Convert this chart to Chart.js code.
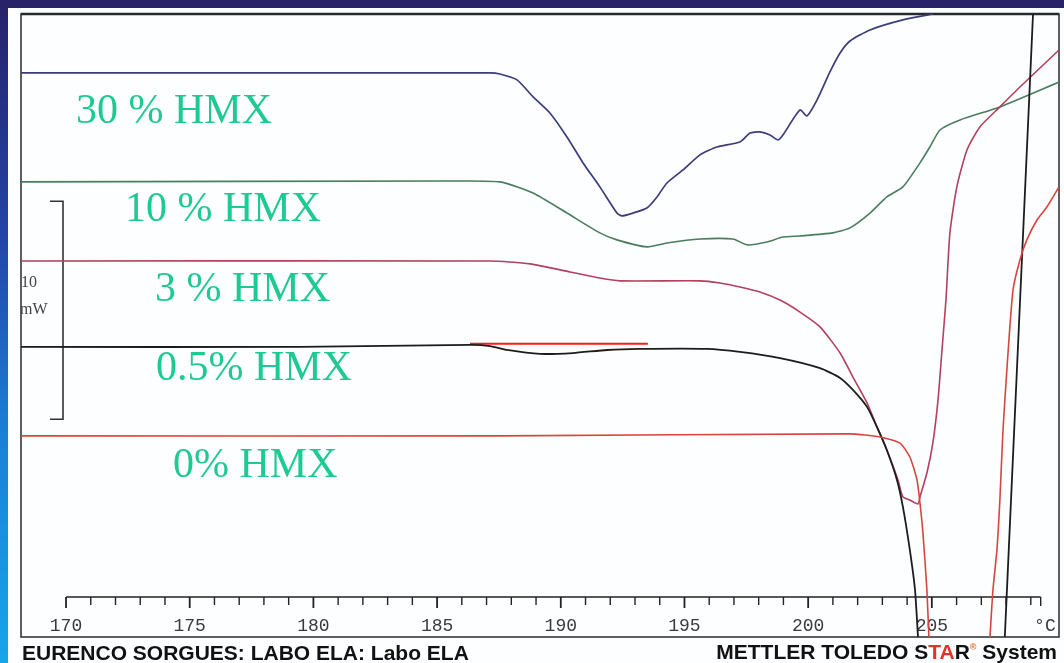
<!DOCTYPE html>
<html><head><meta charset="utf-8">
<script src="https://cdn.jsdelivr.net/npm/chart.js@4"></script>
<style>
html,body{margin:0;padding:0;width:1064px;height:663px;overflow:hidden;}
body{background:linear-gradient(to bottom,#272268 0%,#2343a6 35%,#1b7fd6 65%,#17a5ea 100%);}
#wrap{position:relative;width:1064px;height:663px;}
#paper{position:absolute;left:8px;top:8px;width:1056px;height:655px;background:#fdfeff;}
canvas{position:absolute;left:0;top:0;}
.lbl{position:absolute;font-family:"Liberation Serif","Times New Roman",serif;font-size:42px;line-height:42px;color:#1fc992;white-space:nowrap;}
.foot{position:absolute;font-family:"Liberation Sans",Arial,sans-serif;font-weight:bold;font-size:21px;line-height:21px;color:#111;white-space:nowrap;}
.unit{position:absolute;font-family:"Liberation Serif",serif;font-size:16px;line-height:16px;color:#444;}
.red{color:#e0352b;}
.reg{font-size:9px;line-height:0;position:relative;top:-9px;color:#e07030;}
</style>
</head><body>
<div id="wrap">
<div id="paper"></div>
<canvas id="c" width="1064" height="663"></canvas>
<div class="lbl" style="left:76px;top:88px">30 % HMX</div>
<div class="lbl" style="left:125px;top:186px">10 % HMX</div>
<div class="lbl" style="left:155px;top:266px">3 % HMX</div>
<div class="lbl" style="left:156px;top:345px">0.5% HMX</div>
<div class="lbl" style="left:173px;top:442px">0% HMX</div>
<div class="unit" style="left:21px;top:274px">10</div>
<div class="unit" style="left:20px;top:301px">mW</div>
<div class="foot" style="left:22px;top:642px">EURENCO SORGUES: LABO ELA: Labo ELA</div>
<div class="foot" style="right:7px;top:641px">METTLER TOLEDO S<span class="red">TA</span>R<span class="reg">®</span> System</div>
</div>
<script>
// Temperatures (°C) and heat flow (mW, offset curves)
const t30 = [168.18,187.14,187.54,188.23,188.88,189.56,190.25,190.90,191.58,192.27,192.47,192.92,193.48,193.89,194.29,194.94,195.63,196.31,197.24,197.65,198.05,198.46,198.78,198.98,199.67,199.95,200.36,200.88,201.29,201.69,202.50,203.83,205.04];
const y30 = [24.04,24.04,23.99,23.72,22.94,22.20,21.10,19.91,18.81,17.61,17.48,17.61,17.84,18.35,18.99,19.59,20.28,20.64,20.87,21.28,21.33,21.19,20.96,21.19,22.34,22.06,22.80,24.08,24.95,25.50,26.01,26.47,26.74];

const t10 = [168.18,185.52,187.54,188.88,190.25,191.58,192.27,193.48,194.29,195.63,196.96,197.53,198.33,198.98,199.67,201.00,201.69,202.50,203.18,203.83,204.52,204.92,205.33,206.14,207.75,210.14];
const y10 = [19.04,19.08,19.04,18.53,17.61,16.70,16.38,16.06,16.24,16.42,16.42,16.15,16.28,16.51,16.56,16.70,16.93,17.61,18.35,18.81,19.91,20.64,21.42,21.88,22.48,23.62];

const t3 = [168.18,187.14,188.76,190.37,191.58,192.39,195.63,196.43,197.24,198.05,198.86,199.67,200.48,201.29,201.81,202.38,202.78,203.18,203.63,203.83,204.11,204.44,204.52,204.80,205.04,205.25,205.41,205.57,205.73,206.01,206.42,206.94,207.75,208.56,210.14];
const y3 = [15.41,15.41,15.28,14.91,14.63,14.50,14.50,14.40,14.22,13.99,13.62,13.07,12.39,11.19,10.09,8.90,7.80,6.74,5.37,4.59,4.45,4.27,4.59,5.69,7.06,9.04,11.33,13.62,16.70,18.81,20.50,21.56,22.48,23.39,25.09];

const t05 = [168.18,179.46,186.33,187.14,187.83,189.16,190.49,191.87,193.20,195.91,197.24,198.86,200.48,201.29,201.81,202.38,202.78,203.18,203.59,203.83,204.11,204.32,204.44,205.5,207.95,209.09];
const y05 = [11.47,11.47,11.56,11.51,11.33,11.15,11.19,11.33,11.38,11.38,11.24,10.96,10.50,10.05,9.50,8.72,7.80,6.74,5.37,4.13,2.16,0.32,-1.83,null,-1.83,26.74];

const t0 = [168.18,187.54,201.69,202.90,203.71,204.11,204.40,204.52,204.64,204.80,204.88,206.0,207.35,207.47,207.63,207.75,207.87,208.04,208.28,208.56,208.84,209.25,209.65,210.14];
const y0 = [7.39,7.39,7.48,7.34,7.06,6.42,5.37,4.31,2.94,0.32,-1.83,null,-1.83,0.32,2.16,4.45,7.52,10.55,14.08,15.46,16.38,17.29,17.89,18.81];

const markT = [186.33,193.52];
const markY = [11.61,11.61];

const tickLabelValues = [170,175,180,185,190,195,200,205,209.57];
const tickLabels = ['170','175','180','185','190','195','200','205','°C'];
const minorTicks = [170,171,172,173,174,175,176,177,178,179,180,181,182,183,184,185,186,187,188,189,190,191,192,193,194,195,196,197,198,199,200,201,202,203,204,205,206,207,208,209];
const scaleBar = [8.15,18.15]; // 10 mW

const pts = (t,y)=>t.map((v,i)=>({x:v,y:y[i]}));

function ds(t,y,color,w){
  return {data:pts(t,y),borderColor:color,borderWidth:w||1.6,pointRadius:0,tension:0.2,spanGaps:false,
          clip:{left:0,top:2,right:0,bottom:40}};
}

const framePlugin = {
  id:'frame',
  beforeDatasetsDraw(chart){
    const c = chart.ctx, a = chart.chartArea, xs = chart.scales.x, ys = chart.scales.y;
    c.save();
    c.strokeStyle = '#2a2a2a';
    c.lineWidth = 1.5;
    c.strokeRect(a.left, a.top, a.right - a.left, 637 - a.top);
    c.lineWidth = 2.5;
    c.beginPath(); c.moveTo(a.left, a.top); c.lineTo(a.right, a.top); c.stroke();
    c.lineWidth = 1.6;
    c.strokeStyle = '#222';
    const x0 = xs.getPixelForValue(170), x1 = xs.getPixelForValue(209.4);
    c.beginPath(); c.moveTo(x0, a.bottom); c.lineTo(x1, a.bottom); c.stroke();
    minorTicks.forEach(v=>{
      const px = xs.getPixelForValue(v);
      const len = (v % 5 === 0) ? 11 : 8;
      c.lineWidth = (v % 5 === 0) ? 1.8 : 1.4;
      c.beginPath(); c.moveTo(px, a.bottom); c.lineTo(px, a.bottom + len); c.stroke();
    });
    c.beginPath(); c.moveTo(x1, a.bottom); c.lineTo(x1, a.bottom + 9); c.stroke();
    const yt = ys.getPixelForValue(scaleBar[1]), yb = ys.getPixelForValue(scaleBar[0]);
    c.lineWidth = 1.6;
    c.strokeStyle = '#333';
    c.beginPath();
    c.moveTo(50, yt); c.lineTo(63, yt); c.lineTo(63, yb); c.lineTo(50, yb);
    c.stroke();
    c.restore();
  }
};

new Chart(document.getElementById('c'), {
  type:'line',
  data:{datasets:[
    ds(t0,y0,'#d8453f',1.6),
    ds(t05,y05,'#1c1c1c',1.8),
    ds(t3,y3,'#b3405c',1.6),
    ds(t10,y10,'#4a7d5c',1.6),
    ds(t30,y30,'#3c3c7c',1.7),
    {data:pts(markT,markY),borderColor:'#ff1a1a',borderWidth:2,pointRadius:0,tension:0}
  ]},
  options:{
    responsive:false, animation:false,
    layout:{padding:{left:21,right:5,top:14,bottom:0}},
    plugins:{legend:{display:false},tooltip:{enabled:false}},
    scales:{
      x:{type:'linear',min:168.18,max:210.14,
         grid:{display:false,drawTicks:true,tickLength:10},
         border:{display:false},
         ticks:{autoSkip:false,maxRotation:0,padding:8,color:'#3a3a3a',
                font:{family:'Liberation Mono',size:18},
                callback:(v,i)=>tickLabels[i]},
         afterBuildTicks:s=>{ s.ticks = tickLabelValues.map(v=>({value:v})); },
         afterFit:s=>{ s.height = 66; }
      },
      y:{display:false,min:0,max:26.74}
    }
  },
  plugins:[framePlugin]
});
</script>
</body></html>
